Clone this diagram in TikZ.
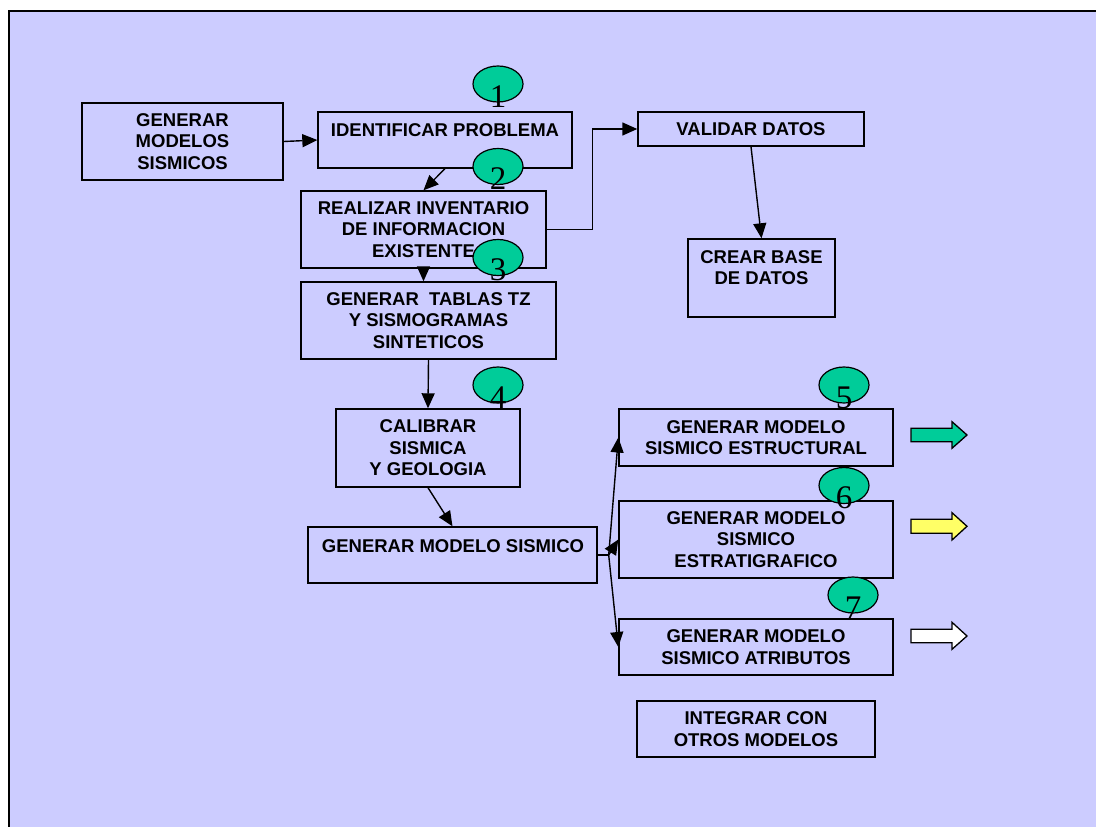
\documentclass[tikz,border=0pt]{standalone}
\usepackage{fontspec}
\setmainfont{Liberation Sans}
\newfontfamily\numfont{Liberation Serif}
\usetikzlibrary{shapes.geometric,arrows.meta}

\definecolor{panel}{HTML}{CCCCFF}
\definecolor{badgegreen}{HTML}{00CC99}
\definecolor{paleyellow}{HTML}{FFFF66}

\begin{document}
\begin{tikzpicture}[x=1pt,y=-1pt,
  boxfont/.style={font=\fontsize{18.5pt}{21.5pt}\selectfont\bfseries},
  stepbox/.style={draw=black, line width=1.4pt, inner sep=0pt, align=center, boxfont},
  label text/.style={inner sep=0pt, align=center, boxfont},
  badge/.style={ellipse, draw=black, line width=1.2pt, fill=badgegreen,
                minimum width=50pt, minimum height=36pt, inner sep=0pt},
  badgenum/.style={inner sep=0pt, font=\numfont\fontsize{33pt}{33pt}\selectfont},
  link/.style={draw=black, line width=1.4pt, -{Triangle[length=15pt,width=13pt]}},
  blockarrow/.style={draw=black, line width=1.3pt, line join=miter}
]
% page and panel
\useasboundingbox (0,0) rectangle (1096,827);
\clip (0,0) rectangle (1096,827);
\fill[white] (0,0) rectangle (1096,827);
\draw[line width=2pt, fill=panel] (9,11) rectangle (1115,845);

% process steps
\node[stepbox, minimum width=201pt, minimum height=77pt] (gen) at (182.5,141.5)
  {GENERAR\\MODELOS\\SISMICOS};
\node[stepbox, minimum width=254pt, minimum height=56pt] (ident) at (445,140) {};
\node[label text] (identtxt) at (445,130) {IDENTIFICAR PROBLEMA};
\node[stepbox, minimum width=245pt, minimum height=77pt] (inv) at (423.5,229.5)
  {REALIZAR INVENTARIO\\DE INFORMACION\\EXISTENTE};
\node[stepbox, minimum width=255pt, minimum height=77pt] (tab) at (428.5,320.5)
  {GENERAR\ \ TABLAS TZ\\Y SISMOGRAMAS\\SINTETICOS};
\node[stepbox, minimum width=184pt, minimum height=78pt] (cal) at (428,448)
  {CALIBRAR\\SISMICA\\Y GEOLOGIA};
\node[stepbox, minimum width=289pt, minimum height=56pt] (gms) at (452.5,555) {};
\node[label text] (gmstxt) at (453,546) {GENERAR MODELO SISMICO};
\node[stepbox, minimum width=226pt, minimum height=34pt] (val) at (751,129)
  {VALIDAR DATOS};
\node[stepbox, minimum width=147pt, minimum height=78pt] (base) at (761.5,278) {};
\node[label text] (basetxt) at (761.5,267.5) {CREAR BASE\\DE DATOS};
\node[stepbox, minimum width=274pt, minimum height=57pt] (est) at (756,437.5)
  {GENERAR MODELO\\SISMICO ESTRUCTURAL};
\node[stepbox, minimum width=274pt, minimum height=77pt] (strat) at (756,539.5)
  {GENERAR MODELO\\SISMICO\\ESTRATIGRAFICO};
\node[stepbox, minimum width=274pt, minimum height=56pt] (atr) at (756,647)
  {GENERAR MODELO\\SISMICO ATRIBUTOS};
\node[stepbox, minimum width=238pt, minimum height=56pt] (integ) at (756,729)
  {INTEGRAR CON\\OTROS MODELOS};

% connectors
\draw[link] (gen.east) -- (ident.west);
\draw[link] (ident.south) -- (inv.north);
\draw[link] (inv.south) -- (inv.south |- tab.north);
\draw[link] (tab.south) -- (cal.north);
\draw[link] (cal.south) -- (gms.north);
\draw[link] (inv.east) -- ++(46,0) |- (val.west);
\draw[link] (val.south) -- (base.north);
\draw[line width=1.4pt] (gms.east) -- ++(11,0) coordinate (fork);
\draw[link] (fork) -- (est.west);
\draw[link] (fork) -- (strat.west);
\draw[link] (fork) -- (atr.west);

% numbered badges
\node[badge] (e1) at (498,84) {};
\node[badge] (e2) at (498,166.5) {};
\node[badge] (e3) at (498,257.5) {};
\node[badge] (e4) at (498,385) {};
\node[badge] (e5) at (844,385) {};
\node[badge] (e6) at (844,485.5) {};
\node[badge] (e7) at (853,595) {};
\node[badgenum] (n1) at (498,97) {1};
\node[badgenum] (n2) at (498,179) {2};
\node[badgenum] (n3) at (498,270) {3};
\node[badgenum] (n4) at (498,397.5) {4};
\node[badgenum] (n5) at (844,397.5) {5};
\node[badgenum] (n6) at (844,498) {6};
\node[badgenum] (n7) at (853,607.5) {7};

% outgoing block arrows
\draw[blockarrow, fill=badgegreen] (911,428.3) -- (952,428.3) -- (952,421.7) -- (967,435)
  -- (952,448.3) -- (952,441.7) -- (911,441.7) -- cycle;
\draw[blockarrow, fill=paleyellow] (911,519.3) -- (952,519.3) -- (952,512.7) -- (967,526.3)
  -- (952,540) -- (952,533.3) -- (911,533.3) -- cycle;
\draw[blockarrow, fill=white] (911,629.3) -- (952,629.3) -- (952,622.3) -- (967,636)
  -- (952,649.3) -- (952,642.7) -- (911,642.7) -- cycle;
\end{tikzpicture}
\end{document}
